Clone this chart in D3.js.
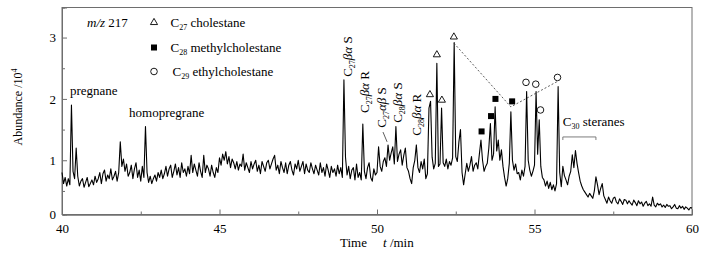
<!DOCTYPE html>
<html>
<head>
<meta charset="utf-8">
<script src="https://cdn.jsdelivr.net/npm/d3@7"></script>
<style>
    body { margin: 0; background: #fff; }
    svg text { font-family: "Liberation Serif", "Times New Roman", Times, serif; fill: #000; }
</style>
</head>
<body>
<script>
// m/z 217 chromatogram, sampled every 0.05 min from 40 to 60 min (abundance / 10^4)
const timeStart = 40;
const timeStep = 0.05;
const abundance = [
    0.80, 0.62, 0.72, 0.58, 0.70, 0.60, 1.90, 0.82, 0.70, 1.20, 0.74, 0.58, 0.66, 0.70, 0.56, 0.64, 0.72, 0.57, 0.62, 0.68, // 40
    0.60, 0.74, 0.64, 0.70, 0.80, 0.62, 0.78, 0.84, 0.66, 0.76, 0.70, 0.86, 0.68, 0.74, 0.82, 0.66, 0.80, 1.30, 0.90, 1.02, // 41
    0.82, 0.94, 0.74, 0.80, 0.92, 0.70, 0.86, 0.96, 0.72, 0.84, 0.66, 0.90, 0.72, 1.55, 0.80, 0.64, 0.74, 0.62, 0.70, 0.76, // 42
    0.66, 0.80, 0.72, 0.84, 0.70, 0.78, 0.90, 0.74, 0.86, 0.92, 0.72, 0.82, 0.94, 0.76, 0.88, 0.72, 0.96, 0.80, 0.86, 0.74, // 43
    0.90, 0.78, 1.08, 0.80, 0.94, 0.84, 0.74, 0.96, 0.82, 0.72, 1.08, 0.80, 0.92, 0.86, 0.74, 0.92, 0.80, 0.72, 0.88, 0.80, // 44
    1.04, 0.92, 1.10, 1.00, 1.14, 0.94, 1.06, 0.88, 1.02, 0.96, 0.86, 0.98, 0.84, 0.94, 0.90, 1.10, 0.84, 0.96, 0.88, 0.80, // 45
    0.98, 0.86, 0.94, 1.00, 0.82, 0.92, 0.78, 0.98, 0.90, 0.82, 0.96, 1.00, 0.86, 0.94, 1.02, 1.08, 0.84, 0.92, 0.78, 0.98, // 46
    0.88, 0.80, 0.96, 0.78, 0.92, 0.98, 0.84, 0.76, 0.94, 0.86, 1.00, 0.82, 0.90, 0.98, 0.78, 0.94, 0.84, 0.80, 0.96, 0.86, // 47
    0.78, 0.92, 0.84, 0.76, 0.96, 0.80, 0.88, 0.74, 0.94, 0.84, 0.72, 0.90, 0.80, 0.86, 0.74, 0.92, 0.78, 0.88, 0.72, 2.31, // 48
    1.05, 0.76, 0.90, 0.70, 0.84, 0.88, 0.68, 0.94, 0.72, 0.80, 0.68, 1.59, 0.82, 0.70, 0.88, 0.96, 0.72, 0.66, 0.86, 0.76, // 49
    0.80, 1.22, 0.90, 0.82, 0.98, 1.04, 0.90, 1.25, 1.00, 1.12, 1.22, 0.94, 1.55, 0.98, 1.10, 1.17, 0.92, 1.08, 1.20, 0.88, // 50
    0.82, 0.70, 0.62, 0.88, 1.00, 1.25, 0.88, 0.80, 0.98, 0.86, 1.02, 0.70, 0.78, 1.85, 1.96, 1.05, 0.86, 0.95, 2.58, 0.90, // 51
    0.94, 1.85, 0.96, 0.90, 1.02, 0.86, 0.98, 0.92, 1.04, 2.92, 1.06, 0.98, 1.30, 1.50, 0.80, 0.60, 0.78, 0.95, 0.82, 0.92, // 52
    1.06, 0.82, 0.92, 0.96, 0.86, 1.10, 1.33, 1.00, 0.82, 0.90, 0.95, 1.20, 1.60, 1.00, 1.10, 1.87, 1.15, 1.33, 1.00, 1.17, // 53
    0.90, 0.72, 0.58, 0.70, 0.95, 1.79, 1.00, 0.84, 0.94, 0.78, 0.80, 0.68, 0.84, 0.74, 0.90, 2.12, 1.00, 0.84, 0.74, 0.82, // 54
    0.92, 2.12, 1.10, 1.66, 0.90, 0.72, 0.68, 0.58, 0.66, 0.54, 0.64, 0.52, 0.60, 0.50, 0.62, 2.20, 0.80, 0.57, 0.90, 0.75, // 55
    0.68, 0.60, 0.74, 0.82, 1.09, 0.88, 1.16, 0.95, 0.80, 0.66, 0.58, 0.52, 0.48, 0.44, 0.40, 0.46, 0.42, 0.38, 0.50, 0.73, // 56
    0.60, 0.44, 0.54, 0.62, 0.42, 0.36, 0.30, 0.40, 0.34, 0.30, 0.38, 0.40, 0.32, 0.29, 0.37, 0.33, 0.28, 0.36, 0.35, 0.29, // 57
    0.34, 0.30, 0.27, 0.35, 0.31, 0.26, 0.34, 0.29, 0.32, 0.25, 0.30, 0.33, 0.26, 0.29, 0.25, 0.40, 0.27, 0.24, 0.30, 0.27, // 58
    0.29, 0.24, 0.27, 0.23, 0.28, 0.25, 0.26, 0.21, 0.24, 0.28, 0.22, 0.21, 0.26, 0.22, 0.25, 0.20, 0.24, 0.22, 0.19, 0.23, // 59
    0.22
];

// peak markers: [time, abundance] just above the marked peaks
const cholestaneMarks = [[51.68, 2.07], [51.90, 2.72], [52.06, 1.98], [52.44, 3.01]];
const methylMarks = [[53.32, 1.47], [53.62, 1.72], [53.76, 2.00], [54.29, 1.96]];
const ethylMarks = [[54.73, 2.27], [55.04, 2.24], [55.19, 1.82], [55.73, 2.35]];
// dotted trend line C27 -> C28 -> C29
const trendLine = [[52.44, 2.91], [54.25, 1.87], [55.71, 2.28]];

const xTicks = [40, 45, 50, 55, 60];
const xMinorTicks = [42.5, 47.5, 52.5, 57.5];
const yTicks = [1, 2, 3];
const yMinorTicks = [0.5, 1.5, 2.5];

const svgWidth = 717;
const svgHeight = 255;
const margin = {top: 7.5, right: 25, bottom: 40.5, left: 62};
const chartWidth = svgWidth - margin.left - margin.right;
const chartHeight = svgHeight - margin.top - margin.bottom;
const yBottom = 0.116;   // the axis line sits a little above zero, labelled "0"
const yTop = 3.49;
const frameColor = "#6e6e6e";
const serif = '"Liberation Serif", "Times New Roman", Times, serif';

const svg = d3.select("body").append("svg")
    .attr("width", svgWidth)
    .attr("height", svgHeight)
    .attr("font-family", serif);

const g = svg.append("g")
    .attr("transform", `translate(${margin.left}, ${margin.top})`);

const x = d3.scaleLinear().domain([40, 60]).range([0, chartWidth]);
const y = d3.scaleLinear().domain([yBottom, yTop]).range([chartHeight, 0]);

// frame
g.append("rect")
    .attr("width", chartWidth)
    .attr("height", chartHeight)
    .attr("fill", "none")
    .attr("stroke", frameColor)
    .attr("stroke-width", 1);

// x axis
g.append("g")
    .attr("transform", `translate(0, ${chartHeight})`)
    .call(d3.axisBottom(x).tickValues(xTicks).tickSize(-5).tickPadding(9).tickFormat(d3.format("d")));
g.append("g")
    .attr("transform", `translate(0, ${chartHeight})`)
    .call(d3.axisBottom(x).tickValues(xMinorTicks).tickSize(-3).tickFormat(""));

// y axis
const yAxis = g.append("g")
    .call(d3.axisLeft(y).tickValues([yBottom].concat(yTicks)).tickSize(-5).tickPadding(6)
        .tickFormat(d => d === yBottom ? "0" : d3.format("d")(d)));
g.append("g")
    .call(d3.axisLeft(y).tickValues(yMinorTicks).tickSize(-3).tickFormat(""));

g.selectAll(".domain").attr("stroke", frameColor);
g.selectAll(".tick line").attr("stroke", frameColor);
g.selectAll(".tick text")
    .attr("font-family", serif)
    .style("font-size", "13px")
    .attr("fill", "#000");
g.selectAll("g").attr("font-family", serif);
yAxis.selectAll(".tick").filter(d => d === yBottom).select("line").remove();

// axis titles
const xTitle = svg.append("text")
    .attr("x", 340)
    .attr("y", 247)
    .style("font-size", "13px");
xTitle.append("tspan").text("Time");
xTitle.append("tspan").attr("x", 383).style("font-style", "italic").text("t");
xTitle.append("tspan").text(" /min");

const yTitle = svg.append("text")
    .attr("transform", `translate(22, 107) rotate(-90)`)
    .attr("text-anchor", "middle")
    .style("font-size", "12px");
yTitle.append("tspan").text("Abundance /10");
yTitle.append("tspan").attr("dy", -5).style("font-size", "8px").text("4");

// chromatogram trace
const line = d3.line()
    .x((d, i) => x(timeStart + i * timeStep))
    .y(d => y(d));

g.append("path")
    .datum(abundance)
    .attr("d", line)
    .attr("fill", "none")
    .attr("stroke", "#000")
    .attr("stroke-width", 1.1)
    .attr("stroke-linejoin", "round");

// trend line
g.append("path")
    .datum(trendLine)
    .attr("d", d3.line().x(d => x(d[0])).y(d => y(d[1])))
    .attr("fill", "none")
    .attr("stroke", "#333")
    .attr("stroke-width", 0.8)
    .attr("stroke-dasharray", "2,2");

// markers
const triangle = d3.symbol().type(d3.symbolTriangle).size(22);
g.append("g").selectAll("path")
    .data(cholestaneMarks)
    .join("path")
    .attr("d", triangle)
    .attr("transform", d => `translate(${x(d[0])}, ${y(d[1])})`)
    .attr("fill", "#fff")
    .attr("stroke", "#000")
    .attr("stroke-width", 0.9);

g.append("g").selectAll("rect")
    .data(methylMarks)
    .join("rect")
    .attr("x", d => x(d[0]) - 3)
    .attr("y", d => y(d[1]) - 3)
    .attr("width", 6)
    .attr("height", 6)
    .attr("fill", "#000");

g.append("g").selectAll("circle")
    .data(ethylMarks)
    .join("circle")
    .attr("cx", d => x(d[0]))
    .attr("cy", d => y(d[1]))
    .attr("r", 3.3)
    .attr("fill", "#fff")
    .attr("stroke", "#000")
    .attr("stroke-width", 0.9);

// rotated sterane labels
const steraneLabels = [
    {t: 49.21, v: 2.36, sub: "27", greek: "βα", tail: " S"},
    {t: 49.75, v: 1.77, sub: "27", greek: "βα", tail: " R"},
    {t: 50.29, v: 1.53, sub: "27", greek: "αβ", tail: " S"},
    {t: 50.79, v: 1.61, sub: "28", greek: "βα", tail: " S"},
    {t: 51.40, v: 1.40, sub: "28", greek: "βα", tail: " R"}
];
steraneLabels.forEach(d => {
    const t = g.append("text")
        .attr("transform", `translate(${x(d.t)}, ${y(d.v)}) rotate(-90)`)
        .style("font-size", "13px");
    t.append("tspan").text("C");
    t.append("tspan").attr("dy", 3).style("font-size", "8px").text(d.sub);
    t.append("tspan").attr("dy", -3).style("font-style", "italic").text(d.greek);
    t.append("tspan").text(d.tail);
});

// leader for C27 αβ S
g.append("line")
    .attr("x1", x(50.19)).attr("y1", y(1.46))
    .attr("x2", x(50.32)).attr("y2", y(1.30))
    .attr("stroke", "#333").attr("stroke-width", 0.8);

g.append("text").attr("x", x(40.25)).attr("y", y(2.07)).style("font-size", "13px").text("pregnane");
g.append("text").attr("x", x(42.13)).attr("y", y(1.71)).style("font-size", "13px").text("homopregrane");

// C30 steranes
const c30 = g.append("text").attr("x", x(55.90)).attr("y", y(1.56)).style("font-size", "13px");
c30.append("tspan").text("C");
c30.append("tspan").attr("dy", 3).style("font-size", "8px").text("30");
c30.append("tspan").attr("dy", -3).text(" steranes");
g.append("path")
    .attr("d", `M${x(55.90)},${y(1.33)} V${y(1.38)} H${x(56.95)} V${y(1.33)}`)
    .attr("fill", "none")
    .attr("stroke", frameColor)
    .attr("stroke-width", 0.9);

// legend (top left)
const legend = svg.append("g");
const mz = legend.append("text").attr("x", 87).attr("y", 27).style("font-size", "13px");
mz.append("tspan").style("font-style", "italic").text("m/z");
mz.append("tspan").text(" 217");

legend.append("path")
    .attr("d", triangle)
    .attr("transform", "translate(154, 22.5)")
    .attr("fill", "#fff").attr("stroke", "#000").attr("stroke-width", 0.9);
legend.append("rect")
    .attr("x", 151).attr("y", 44.5).attr("width", 6).attr("height", 6)
    .attr("fill", "#000");
legend.append("circle")
    .attr("cx", 154).attr("cy", 71.5).attr("r", 3.3)
    .attr("fill", "#fff").attr("stroke", "#000").attr("stroke-width", 0.9);

const legendItems = [
    {x: 170.5, y: 27, sub: "27", name: " cholestane"},
    {x: 170.5, y: 52, sub: "28", name: " methylcholestane"},
    {x: 172.5, y: 76, sub: "29", name: " ethylcholestane"}
];
legendItems.forEach(d => {
    const t = legend.append("text").attr("x", d.x).attr("y", d.y).style("font-size", "13px");
    t.append("tspan").text("C");
    t.append("tspan").attr("dy", 3).style("font-size", "8px").text(d.sub);
    t.append("tspan").attr("dy", -3).text(d.name);
});
</script>
</body>
</html>
